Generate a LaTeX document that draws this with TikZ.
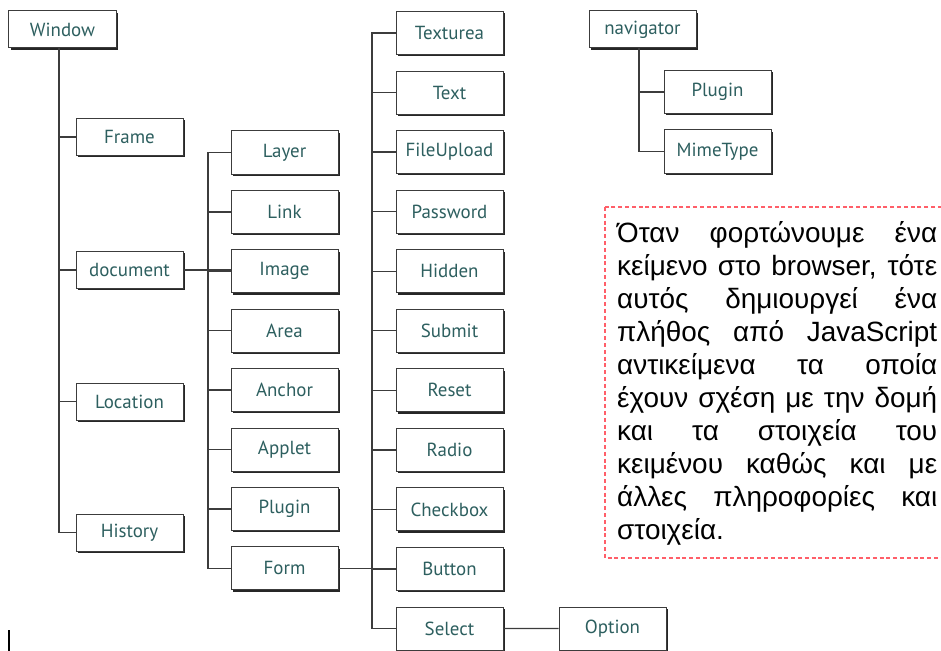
\documentclass[tikz,border=0pt]{standalone}
\usepackage{fontspec}
\newfontfamily\boxfont{PT Sans}
\newfontfamily\parfont{Liberation Sans}
\usetikzlibrary{shadows}
\definecolor{txt}{RGB}{45,95,95}
\definecolor{ln}{RGB}{60,60,60}
\definecolor{rd}{RGB}{255,95,105}
\newcommand\jline[1]{\hbox to 320bp{\spaceskip=0.25em plus 1fil minus 0.05em\relax #1}}
\tikzset{
 bx/.style={draw=ln, line width=1bp, fill=white, minimum width=107bp, minimum height=43bp, inner sep=0pt, text=txt, font=\boxfont\fontsize{19}{22}\selectfont, drop shadow={shadow xshift=1.8bp, shadow yshift=-1.8bp, fill=black, opacity=0.85}},
 bxs/.style={bx, minimum height=37bp},
 cn/.style={draw=ln, line width=1.4bp},
 pl/.style={anchor=base west, inner sep=0pt, font=\parfont\fontsize{28}{33}\selectfont},
 reddash/.style={draw=rd, line width=1.6bp, dash pattern=on 4bp off 2.8bp},
}
\begin{document}
\begin{tikzpicture}[x=1bp,y=-1bp]
\useasboundingbox (0,0) rectangle (941,651);
\coordinate (t1) at (59,0);
\coordinate (t2) at (208,0);
\coordinate (t3) at (372,0);
\coordinate (t4) at (639,0);
% column 1
\node[bxs] (win) at (62.5,29.5) {Window};
\node[bxs] (frame) at (129.5,137) {Frame};
\node[bxs] (doc) at (129.5,270) {document};
\node[bxs] (loc) at (129.5,401.5) {Location};
\node[bxs] (hist) at (129.5,532.5) {History};
% column 2
\foreach \n/\t [count=\i from 0] in {layer/Layer, link/Link, image/Image, area/Area, anchor/Anchor, applet/Applet, plugin/Plugin, form/Form}
  \node[bx] (\n) at (284.5,{152.5+59.4*\i}) {\t};
% column 3
\foreach \n/\t [count=\i from 0] in {texturea/Texturea, text/Text, fileupload/FileUpload, password/Password, hidden/Hidden, submit/Submit, reset/Reset, radio/Radio, checkbox/Checkbox, button/Button, select/Select}
  \node[bx] (\n) at (449.5,{33+59.55*\i}) {\t};
\node[bx] (option) at (612.5,628.5) {Option};
% navigator
\node[bxs] (nav) at (642.5,29.5) {navigator};
\node[bx] (nplugin) at (717.5,92) {Plugin};
\node[bx] (mime) at (717.5,151.5) {MimeType};
% connectors
\draw[cn] (win.south -| t1) -- (hist.west -| t1) -- (hist.west);
\foreach \n in {frame,doc,loc} \draw[cn] (\n.west -| t1) -- (\n.west);
\draw[cn] (layer.west) -- (layer.west -| t2) -- (form.west -| t2) -- (form.west);
\foreach \n in {link,image,area,anchor,applet,plugin} \draw[cn] (\n.west -| t2) -- (\n.west);
\draw[cn] (doc.east) -- (doc.east -| image.west);
\draw[cn] (texturea.west) -- (texturea.west -| t3) -- (select.west -| t3) -- (select.west);
\foreach \n in {text,fileupload,password,hidden,submit,reset,radio,checkbox,button} \draw[cn] (\n.west -| t3) -- (\n.west);
\draw[cn] (form.east) -- (form.east -| button.west);
\draw[cn] (select.east) -- (option.west);
\draw[cn] (nav.south -| t4) -- (mime.west -| t4) -- (mime.west);
\draw[cn] (nplugin.west -| t4) -- (nplugin.west);
% text box
\draw[reddash] (605,207) rectangle (946,558);
\node[pl] (p1) at (617,242) {\jline{Όταν φορτώνουμε ένα}};
\node[pl] (p2) at (617,275) {\jline{κείμενο στο browser, τότε}};
\node[pl] (p3) at (617,308) {\jline{αυτός δημιουργεί ένα}};
\node[pl] (p4) at (617,341) {\jline{πλήθος από JavaScript}};
\node[pl] (p5) at (617,374) {\jline{αντικείμενα τα οποία}};
\node[pl] (p6) at (617,407) {\jline{έχουν σχέση με την δομή}};
\node[pl] (p7) at (617,440) {\jline{και τα στοιχεία του}};
\node[pl] (p8) at (617,473) {\jline{κειμένου καθώς και με}};
\node[pl] (p9) at (617,506) {\jline{άλλες πληροφορίες και}};
\node[pl] (p10) at (617,539) {στοιχεία.};
% stray mark
\draw[line width=2bp, black] (9,630) -- (9,651);
\end{tikzpicture}
\end{document}
